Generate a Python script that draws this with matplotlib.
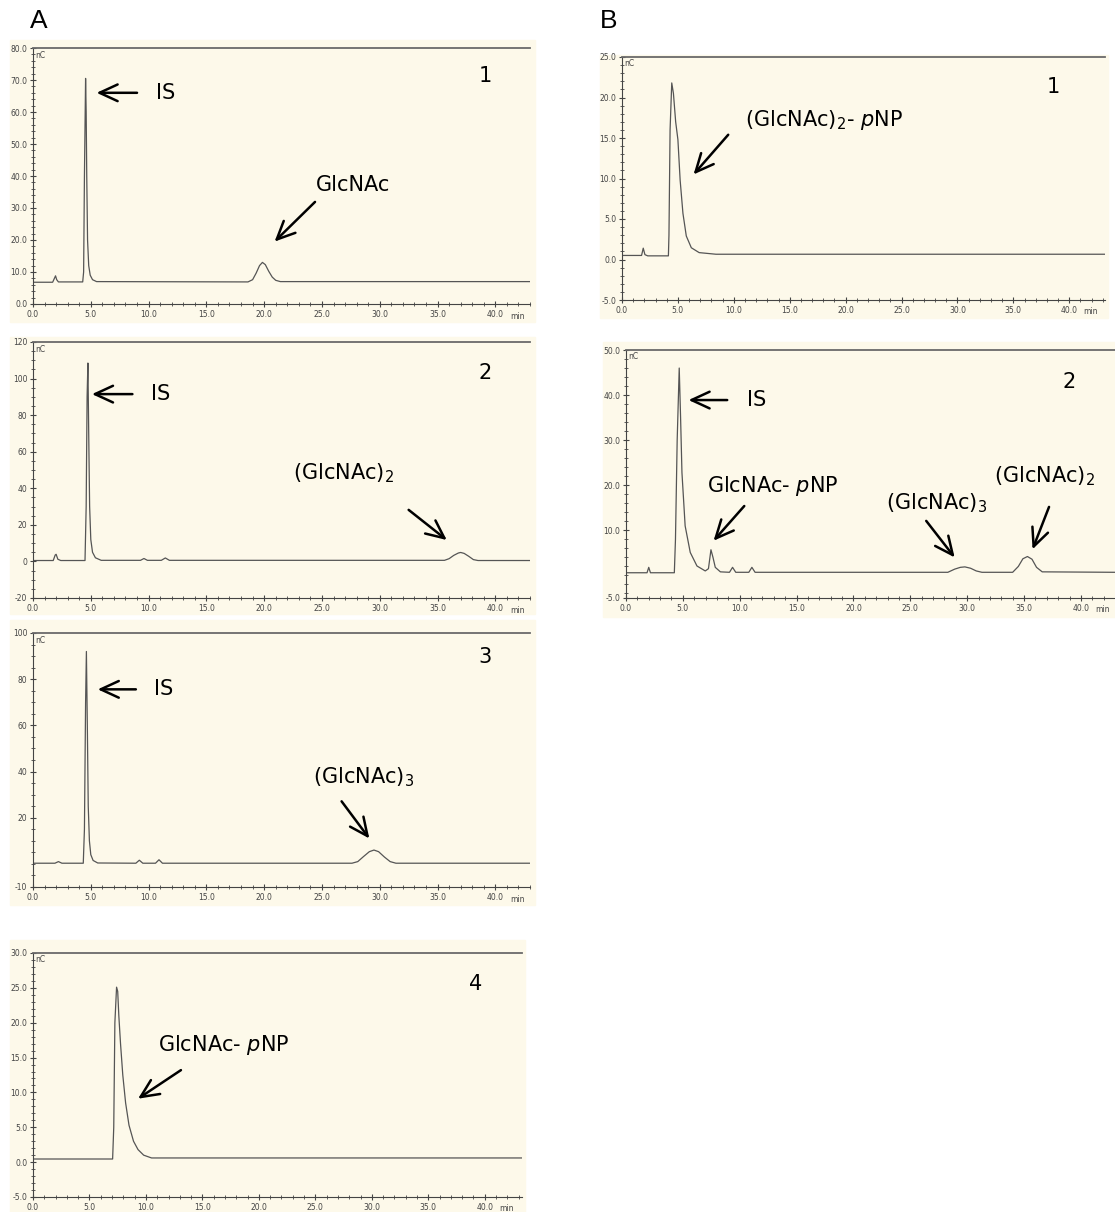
import matplotlib
matplotlib.use('Agg')
import matplotlib.pyplot as plt
from matplotlib.patches import Rectangle
from matplotlib.ticker import MultipleLocator, FixedLocator, FormatStrFormatter

W, H = 1115, 1212
beige = '#fdf9ea'
trace_color = '#555555'

# chromatogram traces (time in min, signal in nC)
a1_t = [0, 1.7, 1.85, 1.95, 2.05, 2.2, 4.3, 4.38, 4.45, 4.55, 4.6, 4.65, 4.72, 4.82, 4.95, 5.15, 5.5,
        18.6, 19.0, 19.3, 19.6, 19.85, 20.1, 20.4, 20.7, 21.0, 21.4, 43]
a1_y = [6.8, 6.8, 8.0, 8.8, 7.6, 6.9, 6.9, 10, 40, 70.5, 60, 40, 20, 12, 9, 7.6, 7.0,
        6.9, 7.6, 9.6, 12.0, 13.0, 12.3, 10.2, 8.4, 7.4, 7.0, 7.0]

a2_t = [0, 1.75, 1.92, 2.0, 2.15, 2.4, 4.5, 4.6, 4.68, 4.75, 4.82, 4.9, 5.0, 5.15, 5.4, 5.9,
        9.3, 9.6, 9.9, 11.1, 11.45, 11.8,
        35.6, 36.0, 36.4, 36.8, 37.0, 37.3, 37.7, 38.1, 38.5, 43]
a2_y = [0.5, 0.5, 3.5, 3.9, 1.2, 0.5, 0.5, 30, 90, 108.5, 70, 30, 12, 5, 2, 0.6,
        0.6, 1.6, 0.6, 0.6, 1.9, 0.6,
        0.6, 1.5, 3.3, 4.6, 4.9, 4.4, 2.8, 1.0, 0.5, 0.5]

a3_t = [0, 1.9, 2.2, 2.5, 4.35, 4.45, 4.55, 4.62, 4.7, 4.78, 4.88, 5.0, 5.2, 5.6,
        8.9, 9.2, 9.5, 10.6, 10.9, 11.2,
        27.6, 28.1, 28.6, 29.1, 29.5, 29.9, 30.4, 30.9, 31.4, 43]
a3_y = [0.3, 0.3, 1.0, 0.3, 0.3, 15, 70, 92, 60, 25, 10, 4, 1.5, 0.4,
        0.3, 1.6, 0.3, 0.3, 1.8, 0.3,
        0.3, 1.0, 3.2, 5.3, 6.0, 5.3, 3.0, 1.0, 0.3, 0.3]

a4_t = [0, 7.05, 7.15, 7.25, 7.4, 7.5, 7.6, 7.75, 7.95, 8.2, 8.5, 8.9, 9.3, 9.8, 10.5, 43.3]
a4_y = [0.45, 0.45, 5, 20, 25.1, 24.5, 21, 17, 12.5, 8.5, 5.3, 3.0, 1.8, 1.0, 0.6, 0.6]

b1_t = [0, 1.75, 1.9, 2.05, 2.3, 4.15, 4.2, 4.3, 4.45, 4.6, 4.8, 5.0, 5.2, 5.45, 5.75, 6.2, 6.9, 8.4, 44]
b1_y = [0.5, 0.5, 1.4, 0.6, 0.45, 0.45, 3, 16, 21.8, 20.5, 17, 14.8, 9.8, 5.7, 2.9, 1.45, 0.85, 0.65, 0.65]

b2_t = [0, 1.85, 2.0, 2.15, 4.25, 4.35, 4.5, 4.68, 4.8, 4.92, 5.2, 5.65, 6.24, 6.97,
        7.25, 7.47, 7.65, 7.85, 8.3, 9.1, 9.37, 9.65, 10.8, 11.07, 11.35,
        28.3, 28.9, 29.4, 29.8, 30.3, 30.8, 31.3,
        34.0, 34.5, 34.9, 35.3, 35.7, 36.1, 36.6, 43]
b2_y = [0.6, 0.6, 1.8, 0.6, 0.6, 8, 30, 46, 35, 22.8, 11.0, 5.1, 2.1, 1.0,
        1.5, 5.7, 4.0, 1.8, 0.8, 0.7, 1.8, 0.7, 0.7, 1.8, 0.7,
        0.7, 1.4, 1.8, 1.9, 1.6, 1.0, 0.7,
        0.7, 2.0, 3.7, 4.2, 3.6, 1.8, 0.8, 0.7]

# y tick labels of each panel (first/last give the y range)
a1_yticks = [0, 10, 20, 30, 40, 50, 60, 70, 80]
a2_yticks = [-20, 0, 20, 40, 60, 80, 100, 120]
a3_yticks = [-10, 20, 40, 60, 80, 100]
a4_yticks = [-5, 0, 5, 10, 15, 20, 25, 30]
b1_yticks = [-5, 0, 5, 10, 15, 20, 25]
b2_yticks = [-5, 10, 20, 30, 40, 50]

IS = 'IS'
pnp1 = r'GlcNAc- $\mathit{p}$NP'
pnp2 = r'(GlcNAc)$_{2}$- $\mathit{p}$NP'

# panels: pixel box (l,t,r,b), beige box, data, ticks, format, minor step, xmax,
# labels [(text, x, y)], arrows [(tail, head)], panel number
panels = [
    dict(box=(33, 48, 530, 304), bg=(10, 40, 535, 322), t=a1_t, y=a1_y, yt=a1_yticks,
         fmt='%.1f', minor=2, xmax=43, num=('1', 39.1, 71.3),
         labels=[(IS, 10.6, 66), ('GlcNAc', 24.5, 37.1)],
         arrows=[((9.0, 66), (5.5, 66)), ((24.4, 31.9), (20.9, 19.5))]),
    dict(box=(33, 342, 530, 598), bg=(10, 337, 535, 614), t=a2_t, y=a2_y, yt=a2_yticks,
         fmt='%d', minor=5, xmax=43, num=('2', 39.1, 103),
         labels=[(IS, 10.2, 91.5), ('(GlcNAc)$_{2}$', 22.5, 48)],
         arrows=[((8.6, 91.5), (5.1, 91.5)), ((32.5, 28.2), (35.8, 11.7))]),
    dict(box=(33, 633, 530, 887), bg=(10, 620, 535, 905), t=a3_t, y=a3_y, yt=a3_yticks,
         fmt='%d', minor=5, xmax=43, num=('3', 39.1, 89.6),
         labels=[(IS, 10.5, 75.6), ('(GlcNAc)$_{3}$', 24.2, 37.7)],
         arrows=[((8.9, 75.6), (5.6, 75.6)), ((26.7, 27.1), (29.1, 11.0))]),
    dict(box=(33, 953, 522, 1197), bg=(10, 940, 525, 1212), t=a4_t, y=a4_y, yt=a4_yticks,
         fmt='%.1f', minor=1, xmax=43.3, num=('4', 39.2, 25.6),
         labels=[(pnp1, 11.1, 16.8)],
         arrows=[((13.1, 13.2), (9.3, 9.1))]),
    dict(box=(622, 57, 1105, 300), bg=(600, 55, 1108, 318), t=b1_t, y=b1_y, yt=b1_yticks,
         fmt='%.1f', minor=1, xmax=43.2, num=('1', 38.6, 21.3),
         labels=[(pnp2, 11.0, 17.2)],
         arrows=[((9.5, 15.4), (6.4, 10.5))]),
    dict(box=(626, 350, 1115, 598), bg=(603, 342, 1115, 617), t=b2_t, y=b2_y, yt=b2_yticks,
         fmt='%.1f', minor=2, xmax=43.0, num=('2', 39.0, 43),
         labels=[(IS, 10.6, 38.9), (pnp1, 7.1, 19.8), ('(GlcNAc)$_{3}$', 22.9, 16.1),
                 ('(GlcNAc)$_{2}$', 32.4, 22.0)],
         arrows=[((8.9, 38.9), (5.5, 38.9)), ((10.4, 15.4), (7.7, 7.7)),
                 ((26.4, 12.1), (28.9, 4.0)), ((37.2, 15.2), (35.75, 5.8))]),
]

fig = plt.figure(figsize=(W / 100, H / 100), dpi=100)

for p in panels:
    # beige backdrop of the pasted chromatogram
    l, t, r, b = p['bg']
    fig.add_artist(Rectangle((l / W, 1 - b / H), (r - l) / W, (b - t) / H,
                             transform=fig.transFigure, color=beige, zorder=0))
    l, t, r, b = p['box']
    ax = fig.add_axes([l / W, 1 - b / H, (r - l) / W, (b - t) / H])
    ax.set_facecolor(beige)
    ax.plot(p['t'], p['y'], color=trace_color, lw=0.9)
    ax.set_xlim(0, p['xmax'])
    ax.set_ylim(p['yt'][0], p['yt'][-1])

    ax.xaxis.set_major_locator(FixedLocator([0, 5, 10, 15, 20, 25, 30, 35, 40]))
    ax.xaxis.set_minor_locator(MultipleLocator(1))
    ax.xaxis.set_major_formatter(FormatStrFormatter('%.1f'))
    ax.yaxis.set_major_locator(FixedLocator(p['yt']))
    ax.yaxis.set_minor_locator(MultipleLocator(p['minor']))
    ax.yaxis.set_major_formatter(FormatStrFormatter(p['fmt']))
    ax.tick_params(which='major', direction='inout', length=5, width=0.8,
                   labelsize=5.5, labelcolor='#444444', color='#444444', pad=1.5)
    ax.tick_params(which='minor', direction='inout', length=2.5, width=0.6, color='#444444')

    for s in ['left', 'bottom']:
        ax.spines[s].set_color('#444444')
        ax.spines[s].set_linewidth(0.8)
    ax.spines['right'].set_visible(False)
    ax.spines['top'].set_color('#6a6a6a')
    ax.spines['top'].set_linewidth(1.3)

    ax.text(0.004, 0.99, 'nC', transform=ax.transAxes, va='top', ha='left',
            fontsize=5.5, color='#444444')
    ax.text(41.9, -0.03, 'min', transform=ax.get_xaxis_transform(), va='top',
            ha='center', fontsize=5.5, color='#444444')

    # annotations
    num, nx, ny = p['num']
    ax.text(nx, ny, num, fontsize=15, va='center', ha='center')
    for txt, tx, ty in p['labels']:
        ax.text(tx, ty, txt, fontsize=15, va='center', ha='left')
    for tail, head in p['arrows']:
        ax.annotate('', xy=head, xytext=tail,
                    arrowprops=dict(arrowstyle='->,head_length=0.65,head_width=0.3',
                                    lw=1.8, color='k', mutation_scale=20,
                                    shrinkA=0, shrinkB=0))

fig.text(30 / W, 1 - 21 / H, 'A', fontsize=19, family='Liberation Sans', va='center')
fig.text(600 / W, 1 - 21 / H, 'B', fontsize=19, family='Liberation Sans', va='center')

fig.savefig('out.png', dpi=100, facecolor='white')
